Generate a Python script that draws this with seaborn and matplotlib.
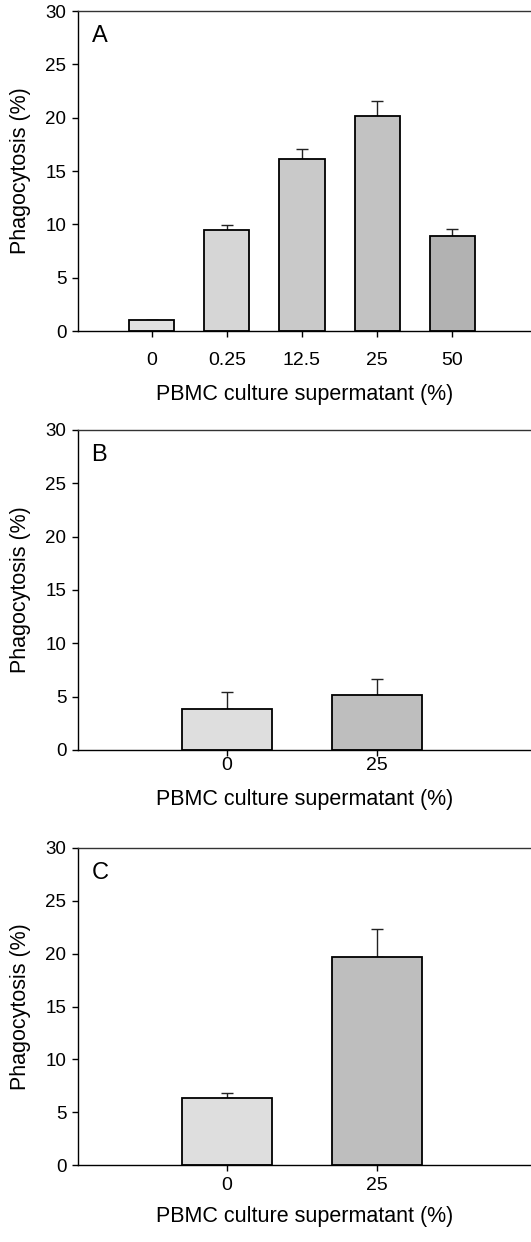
import numpy as np
import pandas as pd
import matplotlib
matplotlib.use("Agg")
import matplotlib.pyplot as plt
import seaborn as sns

# ---------------- data ----------------
cats_A = ["0", "0.25", "12.5", "25", "50"]
vals_A = [1.05, 9.5, 16.1, 20.2, 8.9]
err_A = [0.0, 0.45, 0.95, 1.35, 0.65]

cats_B = ["0", "25"]
vals_B = [3.8, 5.15]
err_B = [1.6, 1.5]

cats_C = ["0", "25"]
vals_C = [6.35, 19.65]
err_C = [0.45, 2.7]

panel_labels = ["A", "B", "C"]
yticks = [0, 5, 10, 15, 20, 25, 30]
xlabel_text = "PBMC culture supermatant (%)"
ylabel_text = "Phagocytosis (%)"

# ---------------- style ----------------
sns.set_style("ticks")
plt.rcParams["font.family"] = ["Liberation Sans", "DejaVu Sans"]
plt.rcParams["text.color"] = "black"
plt.rcParams["axes.labelcolor"] = "black"
plt.rcParams["xtick.color"] = "black"
plt.rcParams["ytick.color"] = "black"

fig = plt.figure(figsize=(5.31, 12.42), dpi=100)
H = 1242.0
W = 531.0

# (top_px, bottom_px, xlim, colours, tick pad, xlabel pad)
panels = [
    (cats_A, vals_A, err_A, 11, 331, (-0.99, 5.05),
     ["#e2e2e2", "#d6d6d6", "#c9c9c9", "#c2c2c2", "#b2b2b2"], 11, 11),
    (cats_B, vals_B, err_B, 430, 750, (-1.0, 2.03),
     ["#dedede", "#bebebe"], 1, 11),
    (cats_C, vals_C, err_C, 848, 1165, (-1.0, 2.03),
     ["#dedede", "#bebebe"], 5, 8),
]

left = 77.5 / W
for i, (cats, vals, errs, top, bot, xlim, cols, tpad, lpad) in enumerate(panels):
    ax = fig.add_axes([left, 1 - bot / H, 1.0 - left, (bot - top) / H])
    df = pd.DataFrame({"cat": cats, "val": vals})
    sns.barplot(data=df, x="cat", y="val", hue="cat", palette=cols,
                legend=False, width=0.6, edgecolor="black", linewidth=1.3,
                ax=ax, zorder=2)
    xs = [p.get_x() + p.get_width() / 2 for p in ax.patches]
    errs_arr = np.array(errs)
    ax.errorbar(xs, vals, yerr=[np.zeros_like(errs_arr), errs_arr], fmt="none",
                ecolor="#222222", elinewidth=1.0, capsize=4, capthick=1.0,
                zorder=1)
    ax.set_xlim(*xlim)
    ax.set_ylim(0, 30)
    ax.set_yticks(yticks)
    ax.set_yticklabels([str(t) for t in yticks])
    ax.tick_params(axis="y", direction="out", length=4, width=1, pad=4,
                   labelsize=13.5, colors="black")
    ax.tick_params(axis="x", direction="out", length=4, width=1, pad=tpad,
                   labelsize=14, colors="black")
    ax.set_xlabel(xlabel_text, fontsize=15.5, labelpad=lpad, color="black")
    ax.set_ylabel(ylabel_text, fontsize=15.5, labelpad=10, color="black")
    for s in ["left", "bottom"]:
        ax.spines[s].set_color("black")
        ax.spines[s].set_linewidth(1.0)
    ax.spines["top"].set_color("#333333")
    ax.spines["top"].set_linewidth(1.0)
    ax.spines["right"].set_visible(False)
    ax.text(0.031, 0.955, panel_labels[i], transform=ax.transAxes,
            fontsize=17, va="top", ha="left", color="black")

fig.savefig("out.png", dpi=100, facecolor="white")
